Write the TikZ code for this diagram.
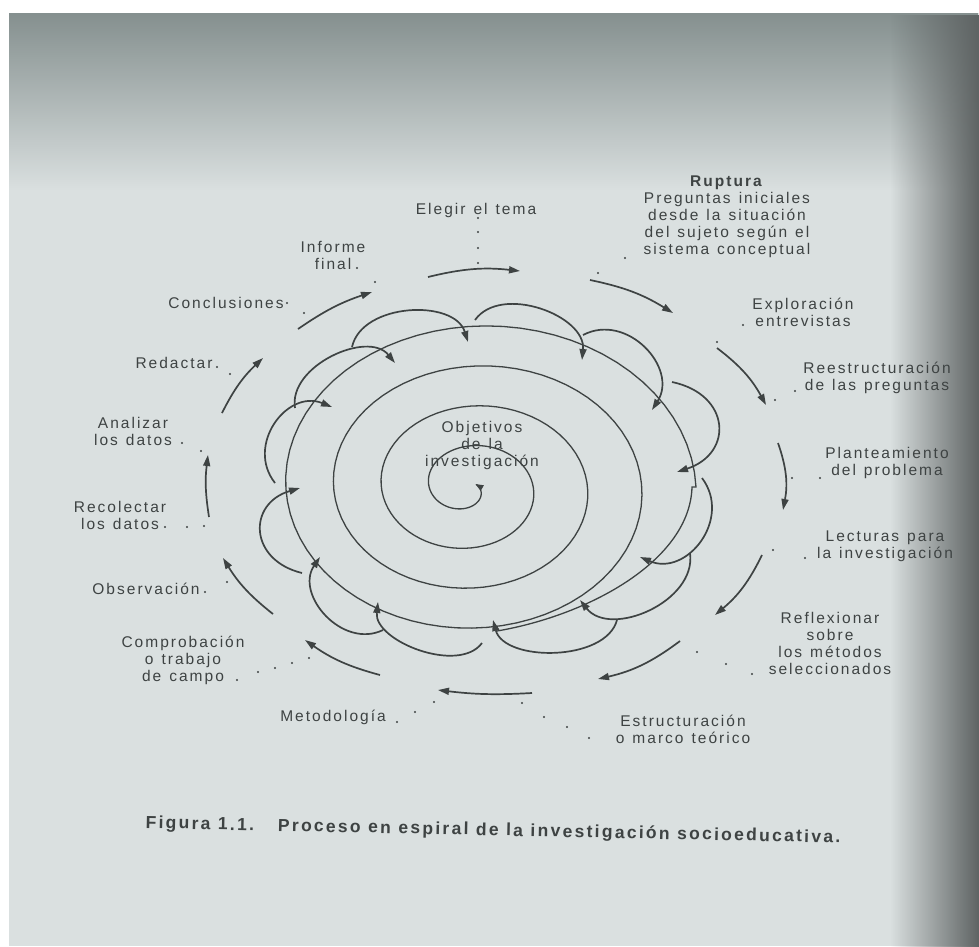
\documentclass[tikz,border=0pt]{standalone}
\usepackage{fontspec}
\setmainfont{Liberation Sans}[LetterSpace=13]
\usetikzlibrary{arrows.meta,fadings}
\definecolor{ink}{HTML}{3E4343}
\definecolor{paper}{HTML}{DAE0E0}
\definecolor{paperdark}{HTML}{85908F}
\definecolor{edgedark}{HTML}{5E6363}
\newcommand\labelfont{\fontsize{15.5}{17}\selectfont\spaceskip=8pt\relax}
\newcommand\captionfont{\fontsize{17.5}{19}\selectfont\bfseries\spaceskip=7.5pt\relax}
\begin{document}
\begin{tikzpicture}[x=1pt,y=1pt,
  labelstyle/.style={align=center,text=ink,inner sep=0pt,font=\labelfont},
  loopstyle/.style={draw=ink,line width=1.7pt,-{Triangle[length=11pt,width=7pt]}},
  ringstyle/.style={draw=ink,line width=1.3pt},
  dotstyle/.style={circle,fill=ink,inner sep=0pt,minimum size=2.4pt}]
\useasboundingbox (0,0) rectangle (979,-946);
\fill[white] (0,0) rectangle (979,-946);
\fill[paper] (9,-13) rectangle (979,-946);
\fill[paperdark,path fading=south] (9,-13) rectangle (979,-190);
\fill[edgedark,path fading=west] (890,-13) rectangle (979,-946);

\foreach \i/\sx/\sy/\ex/\ey/\b in {1/428/277/520/271/10, 2/590/280/673/313/10,
  3/717/348/766/405/12, 4/778/443/783/510/15, 5/762/555/715/615/12,
  6/680/641/598/679/12, 7/532/693/438/690/5, 8/380/675/305/640/10,
  9/273/614/223/558/10, 10/209/517/208/455/8, 11/222/413/263/358/10,
  12/298/329/372/292/8}
{\coordinate (o\i-s) at (\sx,-\sy);
 \coordinate (o\i-e) at (\ex,-\ey);
 \draw[loopstyle] (o\i-s) to[bend left=\b] (o\i-e);
}

\foreach \i/\sx/\sy/\ex/\ey/\l in {1/352/347/468/342/1.0, 2/475/320/582/360/1.0,
  3/583/335/652/410/1.25, 4/672/382/677/472/1.7, 5/702/478/640/557/1.3,
  6/690/553/580/600/1.05, 7/617/620/493/620/0.9, 8/482/643/378/602/0.9,
  9/383/630/320/557/1.2, 10/302/573/300/488/1.65, 11/275/483/332/407/1.3,
  12/295/408/395/363/1.0}
{\coordinate (p\i-s) at (\sx,-\sy);
 \coordinate (p\i-e) at (\ex,-\ey);
 \draw[loopstyle] (p\i-s) to[bend left=75,looseness=\l] (p\i-e);
}

\coordinate (s-start) at (497,-631);
\coordinate (s-out) at (692,-487);
\draw[ringstyle,-{Triangle[length=8pt,width=6pt]}] (s-start) .. controls (590,-615) and (690,-560) .. (s-out)
  -- plot[domain=1440:-20,samples=300,variable=\t] ({466+0.009*\t+(13+0.1417*\t)*cos(\t)},{-487-(11+0.1111*\t)*sin(\t)});

\node[labelstyle] (objetivos) at (482,-445) {Objetivos\\de la\\investigación};
\node[labelstyle] (elegir) at (476,-210) {Elegir el tema};
\node[labelstyle] (ruptura) at (727,-217) {\textbf{Ruptura}\\Preguntas iniciales\\desde la situación\\del sujeto según el\\sistema conceptual};
\node[labelstyle] (exploracion) at (803,-312) {Exploración\\entrevistas};
\node[labelstyle] (reestructuracion) at (877,-378) {Reestructuración\\de las preguntas};
\node[labelstyle] (planteamiento) at (887,-463) {Planteamiento\\del problema};
\node[labelstyle] (lecturas) at (885,-546) {Lecturas para\\la investigación};
\node[labelstyle] (reflexionar) at (830,-643) {Reflexionar\\sobre\\los métodos\\seleccionados};
\node[labelstyle] (estructuracion) at (683,-729) {Estructuración\\o marco teórico};
\node[labelstyle] (metodologia) at (333,-717) {Metodología};
\node[labelstyle] (comprobacion) at (183,-660) {Comprobación\\o trabajo\\de campo};
\node[labelstyle] (observacion) at (146,-589) {Observación};
\node[labelstyle] (recolectar) at (120,-515) {Recolectar\\los datos};
\node[labelstyle] (analizar) at (133,-431) {Analizar\\los datos};
\node[labelstyle] (redactar) at (174,-363) {Redactar};
\node[labelstyle] (conclusiones) at (226,-303) {Conclusiones};
\node[labelstyle] (informe) at (333,-255) {Informe\\final};

\foreach \x/\y [count=\k] in {478/218, 478/232, 478/248, 478/263, 625/258, 598/273,
  743/325, 717/342, 795/391, 775/400, 792/478, 820/478, 773/550, 805/558,
  697/652, 726/664, 752/674, 522/703, 544/717, 567/727, 589/738,
  397/722, 415/712, 434/702, 237/680, 258/672, 275/668, 292/663, 309/658,
  205/592, 227/582, 165/527, 187/527, 204/526, 182/443, 201/451,
  217/367, 230/374, 287/303, 304/313, 357/268, 375/282}
  \node[dotstyle] (d\k) at (\x,-\y) {};

\node[labelstyle,font=\captionfont,rotate=-1.2] (caption) at (493,-831)
  {Figura 1.1.\hspace{24pt}Proceso en espiral de la investigación socioeducativa.};
\end{tikzpicture}
\end{document}
